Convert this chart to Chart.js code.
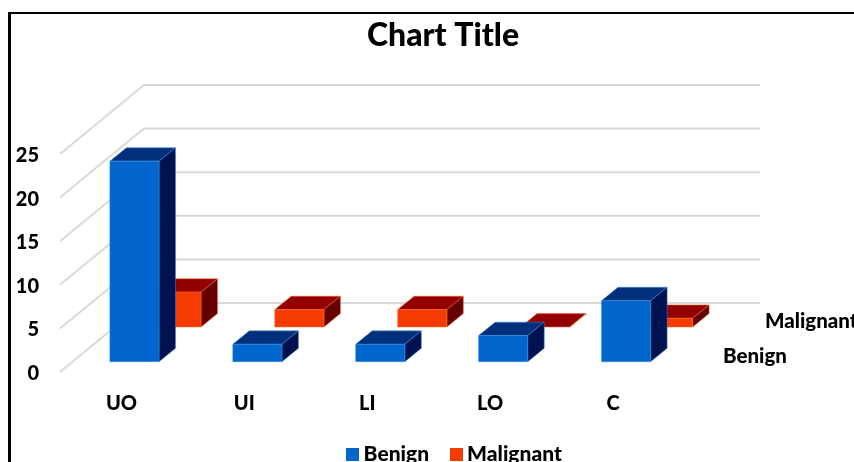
<!DOCTYPE html>
<html>
<head>
<meta charset="utf-8">
<title>Chart Title</title>
<script src="https://cdn.jsdelivr.net/npm/chart.js@4/dist/chart.umd.min.js"></script>
<style>
  html, body { margin: 0; height: 100%; overflow: hidden; background: #fff; }
  #frame { position: absolute; left: 8px; top: 12px; right: -10px; bottom: -10px; border-left: 3px solid #000; border-top: 2px solid #000; }
  #chart { position: absolute; left: 0; top: 0; }
</style>
</head>
<body>
<div id="frame"></div>
<canvas id="chart" width="854" height="475"></canvas>
<script>
const categories = ["UO", "UI", "LI", "LO", "C"];
const benign = [23, 2, 2, 3, 7];
const malignant = [4, 2, 2, 0, 1];
const yTicks = [0, 5, 10, 15, 20, 25];

const fontFamily = "Lato, Carlito, sans-serif";
const textColor = "#000";
const textWeight = "900";

// faces of each column: front comes from the dataset, top and side are the shaded ones
const faceColors = {
  Benign: { top: "#002f7c", side: "#00114f" },
  Malignant: { top: "#930000", side: "#640000" }
};

// floor projection: how far the back wall sits from the front plane
const wallDx = 84;
const wallDy = 69;
const wallEnd = 760;

function fillFace(ctx, points, color, edge) {
  ctx.beginPath();
  points.forEach((p, i) => (i ? ctx.lineTo(p[0], p[1]) : ctx.moveTo(p[0], p[1])));
  ctx.closePath();
  ctx.fillStyle = color;
  ctx.fill();
  ctx.lineWidth = 0.5;
  ctx.strokeStyle = edge;
  ctx.stroke();
}

// legend swatch as a small canvas, so the gap to the text can be tighter than the default
function swatch(color) {
  const c = document.createElement("canvas");
  c.width = c.height = 13;
  const g = c.getContext("2d");
  g.fillStyle = color;
  g.fillRect(0, 0, 13, 13);
  return c;
}

const depthPlugin = {
  id: "depth",
  // title and legend are centred over the floor, not over the whole canvas
  afterLayout(chart) {
    chart.titleBlock.left += 16;
    chart.titleBlock.right += 16;
    chart.legend.left += 30;
    chart.legend.right += 30;
  },
  // gridlines run along the left wall then across the back wall
  beforeDatasetsDraw(chart) {
    const { ctx, scales, chartArea } = chart;
    ctx.save();
    ctx.strokeStyle = "#d9d9d9";
    ctx.lineWidth = 2;
    scales.y.ticks.forEach(t => {
      const y = scales.y.getPixelForValue(t.value);
      ctx.beginPath();
      ctx.moveTo(chartArea.left, y);
      ctx.lineTo(chartArea.left + wallDx, y - wallDy);
      ctx.lineTo(wallEnd, y - wallDy);
      ctx.stroke();
    });
    ctx.restore();
  },
  // each dataset is one row on the floor, further rows shift up and to the right
  beforeDatasetDraw(chart, args) {
    const { ctx } = chart;
    const i = args.index;
    const ds = chart.data.datasets[i];
    const shade = faceColors[ds.label];
    const rowDx = 13 + 42 * i;
    const rowDy = 10.3 + 34.7 * i;
    const boxDx = 16.5;
    const boxDy = 13.4;
    ctx.save();
    args.meta.data.forEach(bar => {
      const l = bar.x - bar.width / 2 + rowDx;
      const r = l + bar.width;
      const t = bar.y - rowDy;
      const b = bar.base - rowDy;
      fillFace(ctx, [[l, t], [r, t], [r + boxDx, t - boxDy], [l + boxDx, t - boxDy]], shade.top, ds.borderColor);
      fillFace(ctx, [[r, t], [r + boxDx, t - boxDy], [r + boxDx, b - boxDy], [r, b]], shade.side, ds.borderColor);
      if (b > t) fillFace(ctx, [[l, t], [r, t], [r, b], [l, b]], ds.backgroundColor, ds.borderColor);
    });
    ctx.restore();
    return false;
  },
  // series names sit along the depth axis, past the right end of the floor
  afterDatasetsDraw(chart) {
    const { ctx, chartArea } = chart;
    ctx.save();
    ctx.font = textWeight + " 20.5px " + fontFamily;
    ctx.fillStyle = textColor;
    ctx.textAlign = "left";
    ctx.textBaseline = "middle";
    chart.data.datasets.forEach((ds, i) => {
      ctx.fillText(ds.label, chartArea.right + 48.5 + 42 * i, chartArea.bottom - 15.5 - 35 * i);
    });
    ctx.restore();
  }
};

new Chart(document.getElementById("chart"), {
  type: "bar",
  data: {
    labels: categories,
    datasets: [
      { label: "Benign", data: benign, backgroundColor: "#0066cc", borderColor: "#3d8fe0" },
      { label: "Malignant", data: malignant, backgroundColor: "#f53c00", borderColor: "#ff6a33" }
    ]
  },
  options: {
    responsive: false,
    animation: false,
    grouped: false,
    categoryPercentage: 1,
    barPercentage: 0.4,
    scales: {
      x: {
        grid: { display: false, drawTicks: false },
        border: { display: false },
        ticks: { color: textColor, font: { family: fontFamily, size: 20, weight: textWeight }, padding: 20, maxRotation: 0 },
        afterFit(scale) { scale.height = 45.5; }
      },
      y: {
        min: 0,
        max: 25,
        grid: { display: false, drawTicks: false },
        border: { display: false },
        afterBuildTicks(scale) { scale.ticks = yTicks.map(v => ({ value: v })); },
        ticks: { color: textColor, font: { family: fontFamily, size: 20, weight: textWeight }, padding: 21, labelOffset: 1.5 },
        afterFit(scale) { scale.width = 60; }
      },
      // empty axis that keeps room for the depth labels on the right
      depth: {
        axis: "y",
        position: "right",
        grid: { display: false, drawTicks: false },
        border: { display: false },
        ticks: { display: false },
        afterFit(scale) { scale.width = 179.5; }
      }
    },
    plugins: {
      tooltip: { enabled: false },
      title: {
        display: true,
        text: "Chart Title",
        color: textColor,
        font: { family: fontFamily, size: 32, weight: textWeight },
        padding: { top: 16, bottom: 99.6 }
      },
      legend: {
        position: "bottom",
        onClick: null,
        labels: {
          usePointStyle: true,
          pointStyleWidth: 1,
          boxHeight: 13,
          color: textColor,
          padding: 26.5,
          font: { family: fontFamily, size: 21, weight: textWeight },
          generateLabels(chart) {
            return Chart.defaults.plugins.legend.labels.generateLabels(chart)
              .map(item => ({ ...item, pointStyle: swatch(item.fillStyle) }));
          }
        }
      }
    }
  },
  plugins: [depthPlugin]
});
</script>
</body>
</html>
